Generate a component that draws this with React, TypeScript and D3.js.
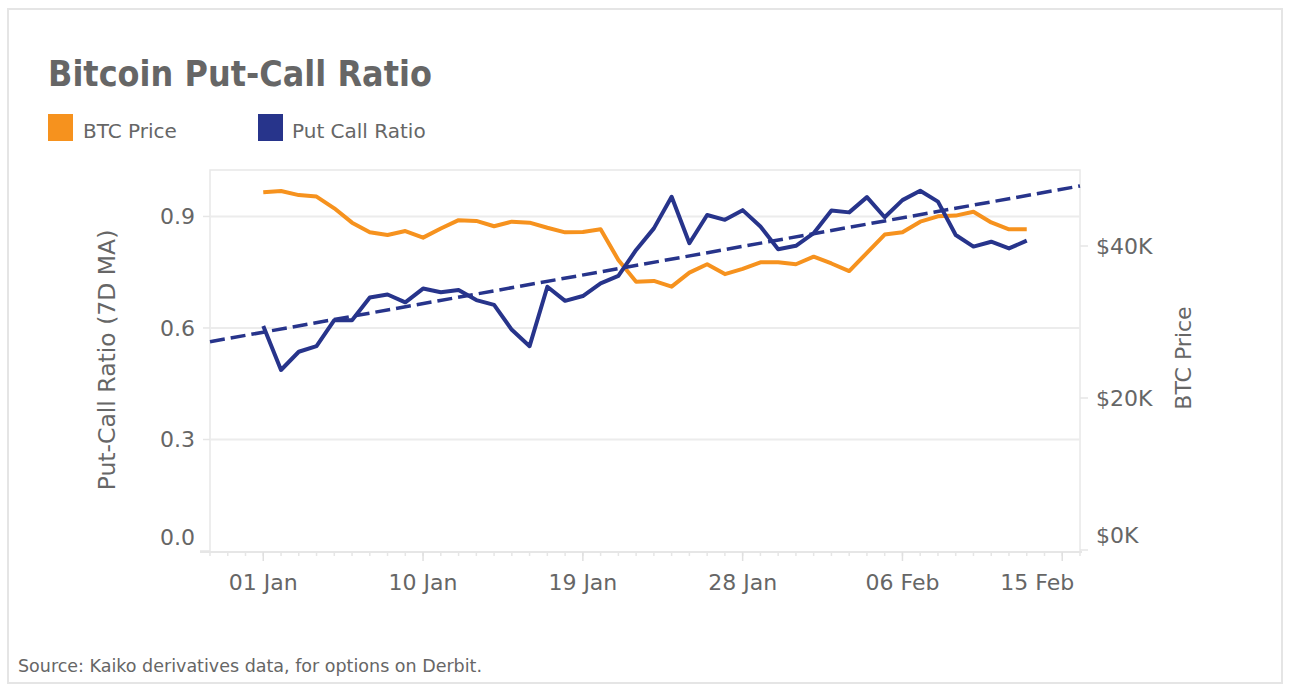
import React from 'react';
import * as d3 from 'd3';

// Daily series, starting 01 Jan 2022
const startDate = '2022-01-01';
const btcPrice = [47060, 47240, 46700, 46500, 44960, 43070, 41800, 41450, 41970, 41100, 42300, 43400, 43300, 42600, 43200, 43070, 42400, 41800, 41840, 42200, 38160, 35300, 35400, 34650, 36500, 37600, 36300, 37000, 37850, 37850, 37600, 38600, 37700, 36700, 39100, 41500, 41800, 43200, 43900, 44000, 44500, 43100, 42200, 42200];
const putCallRatio = [0.605, 0.487, 0.536, 0.551, 0.621, 0.621, 0.682, 0.690, 0.669, 0.706, 0.696, 0.702, 0.675, 0.662, 0.595, 0.551, 0.711, 0.673, 0.686, 0.720, 0.740, 0.810, 0.868, 0.953, 0.828, 0.904, 0.891, 0.917, 0.873, 0.812, 0.821, 0.855, 0.916, 0.911, 0.952, 0.898, 0.944, 0.969, 0.940, 0.850, 0.819, 0.832, 0.814, 0.835];
// Trend line end points (dashed)
const trendDates = ['2021-12-29', '2022-02-16'];
const trendValues = [0.563, 0.982];
const xTickDates = ['2022-01-01', '2022-01-10', '2022-01-19', '2022-01-28', '2022-02-06', '2022-02-15'];
const leftTicks = [0, 0.3, 0.6, 0.9];
const rightTicks = [0, 20000, 40000];

const W = 1292;
const H = 690;
const FONT = '"DejaVu Sans", sans-serif';
const TEXT = '#666666';
const ORANGE = '#F6921E';
const NAVY = '#27348B';

const parse = d3.utcParse('%Y-%m-%d');
const fmtDate = d3.utcFormat('%d %b');

const App: React.FC = () => {
  const plot = { left: 210, right: 1080, top: 170, bottom: 552 };
  const start = parse(startDate) as Date;
  const x = d3.scaleUtc().domain([parse('2021-12-29') as Date, parse('2022-02-16') as Date]).range([plot.left, plot.right]);
  const yL = d3.scaleLinear().domain([0, 1.025]).range([551, plot.top]);
  const yR = d3.scaleLinear().domain([0, 50000]).range([550, plot.top]);

  const day = (i: number) => d3.utcDay.offset(start, i);
  const btcLine = d3.line<number>().x((_, i) => x(day(i))).y(d => yR(d));
  const pcrLine = d3.line<number>().x((_, i) => x(day(i))).y(d => yL(d));
  const trendLine = d3.line<number>().x((_, i) => x(parse(trendDates[i]) as Date)).y(d => yL(d));

  const minorDays = d3.utcDay.range(parse('2021-12-29') as Date, d3.utcDay.offset(parse('2022-02-16') as Date, 1));
  const majors = xTickDates.map(d => parse(d) as Date);

  return (
    <svg width={W} height={H} style={{ position: 'absolute', left: 0, top: 0 }} fontFamily={FONT}>
      <rect x={8} y={9} width={1274} height={674} fill="#fff" stroke="#e5e5e5" strokeWidth={2} />
      <text x={48} y={86} fontSize={32} fontWeight="bold" fill={TEXT} transform="translate(48,86) scale(1,1.12) translate(-48,-86)">Bitcoin Put-Call Ratio</text>

      {/* legend */}
      <rect x={48} y={114} width={25} height={27} fill={ORANGE} />
      <text x={83} y={138} fontSize={20} fill={TEXT}>BTC Price</text>
      <rect x={258} y={114} width={25} height={27} fill={NAVY} />
      <text x={292} y={138} fontSize={20} fill={TEXT}>Put Call Ratio</text>

      {/* plot frame */}
      <rect x={plot.left} y={plot.top} width={plot.right - plot.left} height={plot.bottom - plot.top} fill="none" stroke="#e8e8e8" strokeWidth={1.5} />

      {/* grid + left axis */}
      {leftTicks.map(t => (
        <g key={t}>
          {t > 0 && <line x1={plot.left} x2={plot.right} y1={yL(t)} y2={yL(t)} stroke="#ececec" strokeWidth={2} />}
          <line x1={t > 0 ? 203 : 200} x2={plot.left} y1={yL(t)} y2={yL(t)} stroke="#e6e6e6" strokeWidth={1.5} />
          <text x={195} y={yL(t) - (t === 0 ? 14 : 0)} dy="0.35em" textAnchor="end" fontSize={22} fill={TEXT}>{d3.format('.1f')(t)}</text>
        </g>
      ))}

      {/* right axis */}
      {rightTicks.map(t => (
        <g key={t}>
          <line x1={plot.right} x2={1088} y1={yR(t)} y2={yR(t)} stroke="#e6e6e6" strokeWidth={1.5} />
          <text x={1096} y={yR(t) - (t === 0 ? 15 : 0)} dy="0.35em" fontSize={22} fill={TEXT}>{`$${t / 1000}K`}</text>
        </g>
      ))}

      {/* axis titles */}
      <text transform="translate(115,360) rotate(-90)" textAnchor="middle" fontSize={23.5} fill={TEXT}>Put-Call Ratio (7D MA)</text>
      <text transform="translate(1191,358) rotate(-90)" textAnchor="middle" fontSize={22} fill={TEXT}>BTC Price</text>

      {/* x axis */}
      <line x1={200} x2={1082} y1={plot.bottom} y2={plot.bottom} stroke="#e6e6e6" strokeWidth={2} />
      {minorDays.map(d => (
        <line key={+d} x1={x(d)} x2={x(d)} y1={plot.bottom} y2={plot.bottom + 4} stroke="#e6e6e6" strokeWidth={1.5} />
      ))}
      {majors.map((d, i) => {
        const last = i === majors.length - 1;
        return (
          <g key={+d}>
            <line x1={x(d)} x2={x(d)} y1={plot.bottom} y2={plot.bottom + 9} stroke="#e0e0e0" strokeWidth={1.5} />
            <text x={last ? x(d) + 12 : x(d)} y={590} textAnchor={last ? 'end' : 'middle'} fontSize={22} fill={TEXT}>{fmtDate(d)}</text>
          </g>
        );
      })}

      {/* series */}
      <path d={btcLine(btcPrice) || ''} fill="none" stroke={ORANGE} strokeWidth={4} strokeLinejoin="round" />
      <path d={pcrLine(putCallRatio) || ''} fill="none" stroke={NAVY} strokeWidth={4} strokeLinejoin="round" />
      <path d={trendLine(trendValues) || ''} fill="none" stroke={NAVY} strokeWidth={3.5} strokeDasharray="15,6" />

      <text x={18} y={672} fontSize={17.5} fill={TEXT}>Source: Kaiko derivatives data, for options on Derbit.</text>
    </svg>
  );
};

export default App;
